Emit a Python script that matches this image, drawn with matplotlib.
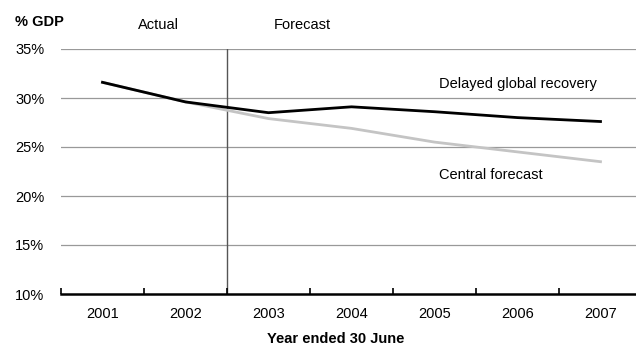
import numpy as np
import matplotlib.pyplot as plt
from matplotlib.ticker import FixedLocator, NullFormatter

plt.rcParams['font.family'] = ['Liberation Sans', 'DejaVu Sans']

years = ['2001', '2002', '2003', '2004', '2005', '2006', '2007']
delayed = [31.6, 29.6, 28.5, 29.1, 28.6, 28.0, 27.6]
central = [31.6, 29.6, 27.9, 26.9, 25.5, 24.5, 23.5]
yticks = [10, 15, 20, 25, 30, 35]

x = np.arange(len(years))
fs = 10.5

fig = plt.figure(figsize=(6.36, 3.47), dpi=100)
# plot area runs slightly past the right edge of the figure
ax = fig.add_axes([61/636, 1-294/347, 581/636, (294-49)/347])

for y in yticks[1:]:
    ax.axhline(y, color='#999999', lw=0.9, zorder=1)
ax.axvline(1.5, color='#555555', lw=1.0, zorder=1)

ax.plot(x, central, color='#c4c4c4', lw=2, zorder=3)
ax.plot(x, delayed, color='black', lw=2, zorder=4)

ax.set_xlim(-0.5, 6.5)
ax.set_ylim(10, 35)
ax.set_yticks(yticks)
ax.set_yticklabels([f'{v}%' for v in yticks], fontsize=fs)
ax.set_xticks(x)
ax.set_xticklabels(years, fontsize=fs)
ax.xaxis.set_minor_locator(FixedLocator(np.arange(-0.5, 7, 1)))
ax.xaxis.set_minor_formatter(NullFormatter())
ax.tick_params(axis='x', which='major', length=0, pad=9)
ax.tick_params(axis='x', which='minor', direction='in', length=4, width=1.2)
ax.tick_params(axis='y', length=0, pad=12)

for s in ['left', 'right', 'top']:
    ax.spines[s].set_visible(False)
ax.spines['bottom'].set_linewidth(1.8)

fig.text(336/636, 1-339/347, 'Year ended 30 June', fontsize=fs, fontweight='bold',
         va='center', ha='center')
fig.text(15/636, 1-22/347, '% GDP', fontsize=fs, fontweight='bold', va='center', ha='left')
fig.text(158/636, 1-25/347, 'Actual', fontsize=fs, va='center', ha='center')
fig.text(302/636, 1-25/347, 'Forecast', fontsize=fs, va='center', ha='center')
ax.text(4.05, 31.4, 'Delayed global recovery', fontsize=fs, ha='left', va='center')
ax.text(4.05, 22.15, 'Central forecast', fontsize=fs, ha='left', va='center')

fig.savefig('out.png', dpi=100)
